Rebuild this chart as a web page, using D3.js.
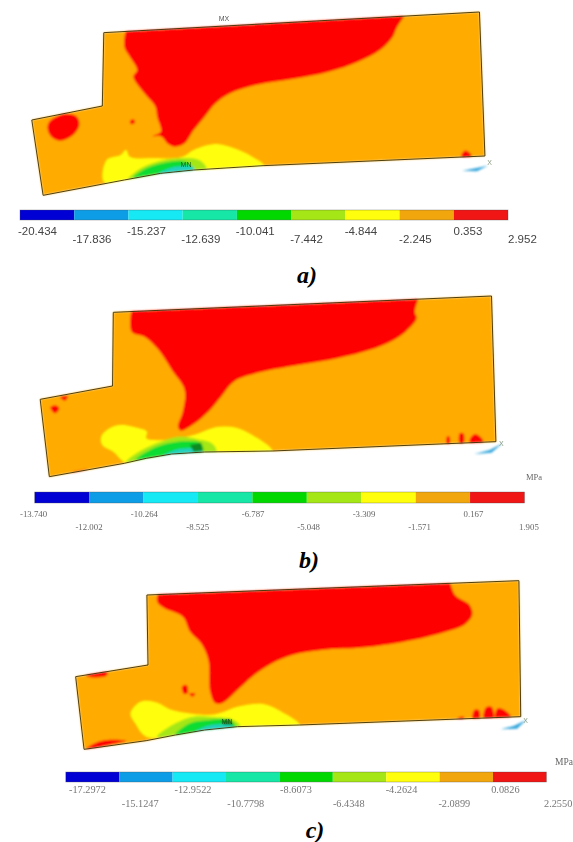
<!DOCTYPE html>
<html>

<head>
  <meta charset="utf-8">
  <script src="https://d3js.org/d3.v7.min.js"></script>
  <style>
    body { margin: 0; background: white; }
    svg { display: block; }
  </style>
</head>

<body>
  <svg id="chart" width="573" height="842"></svg>

  <script>
    // contour colours, lowest band to highest
    const bandColors = ["#0000d4", "#0c9ce6", "#14e8f4", "#14e6a6", "#06d806", "#a4e614", "#ffff0a", "#f2a60c", "#f01212"];
    const fieldOrange = "#ffab00", fieldYellow = "#ffff0a", fieldGreenYellow = "#a4e614", fieldGreen = "#08dc30", fieldTeal = "#20d0c0", fieldRed = "#ff0000";

    // stress levels on the legends (MPa)
    const levelsA = ["-20.434", "-17.836", "-15.237", "-12.639", "-10.041", "-7.442", "-4.844", "-2.245", "0.353", "2.952"];
    const levelsB = ["-13.740", "-12.002", "-10.264", "-8.525", "-6.787", "-5.048", "-3.309", "-1.571", "0.167", "1.905"];
    const levelsC = ["-17.2972", "-15.1247", "-12.9522", "-10.7798", "-8.6073", "-6.4348", "-4.2624", "-2.0899", "0.0826", "2.2550"];

    // model outlines and contour regions
    // red regions run from the top right round to the top left, the top edge closes them
    const outlineA = [[87, 360], [280, 318], [284, 98], [1312, 36], [1327, 468], [720, 497], [530, 510], [440, 520], [340, 540], [118, 586]];
    const redA = [[1112, 40], [1085, 85], [1075, 110], [1040, 150], [980, 185], [900, 215], [800, 237], [700, 255], [630, 280], [590, 310], [560, 350], [530, 390], [505, 430], [480, 440], [460, 432], [442, 410], [418, 408], [440, 395], [430, 350], [425, 320], [395, 280], [365, 230], [375, 210], [355, 170], [340, 140], [345, 85]];
    const spotsA = [[[135, 365], [175, 342], [210, 350], [217, 375], [200, 405], [165, 422], [140, 410], [130, 385]], [[1262, 470], [1272, 452], [1288, 462], [1290, 474]], [[356, 362], [366, 358], [368, 370], [358, 372]]];
    const yellowA = [[284, 545], [292, 480], [330, 465], [345, 450], [355, 470], [420, 475], [500, 470], [530, 450], [590, 432], [640, 445], [690, 470], [722, 497], [530, 512], [440, 522], [340, 542]];
    const limeA = [[350, 540], [385, 505], [440, 482], [500, 474], [545, 480], [565, 505], [530, 512], [440, 522]];
    const greenA = [[365, 532], [400, 505], [450, 488], [500, 483], [525, 498], [530, 512], [470, 518], [420, 525]];
    const tealA = [[430, 522], [480, 500], [530, 502], [530, 512], [470, 518]];

    const outlineB = [[110, 358], [308, 318], [310, 97], [1345, 48], [1357, 485], [745, 513], [560, 516], [470, 522], [400, 535], [340, 550], [135, 590]];
    const redB = [[1147, 50], [1135, 95], [1140, 115], [1110, 155], [1060, 190], [990, 217], [900, 240], [800, 258], [700, 280], [640, 305], [605, 350], [570, 395], [530, 432], [495, 452], [487, 440], [500, 395], [505, 330], [470, 270], [430, 205], [395, 170], [360, 155], [360, 87]];
    const spotsB = [[[138, 382], [152, 376], [162, 386], [150, 400]], [[165, 352], [185, 348], [178, 362]], [[195, 580], [240, 568], [200, 576]], [[1223, 470], [1230, 470], [1230, 492], [1223, 492]], [[1258, 460], [1268, 460], [1268, 492], [1258, 492]], [[1285, 480], [1300, 462], [1320, 478], [1322, 490], [1288, 492]]];
    const yellowB = [[345, 548], [310, 515], [280, 495], [277, 470], [300, 445], [330, 435], [380, 445], [402, 455], [400, 475], [450, 480], [520, 468], [545, 460], [590, 442], [640, 442], [690, 465], [745, 513], [560, 517], [470, 524], [400, 537]];
    const limeB = [[345, 546], [380, 515], [440, 485], [490, 470], [540, 478], [580, 490], [592, 516], [470, 524], [400, 537]];
    const greenB = [[370, 540], [410, 510], [460, 490], [510, 483], [550, 490], [555, 516], [470, 524], [400, 537]];
    const tealB = [[440, 530], [490, 507], [540, 508], [555, 517], [470, 524]];
    const darkPatchB = [[520, 495], [550, 488], [556, 512], [530, 515]];

    const outlineC = [[207, 350], [405, 315], [402, 105], [1420, 62], [1425, 470], [820, 495], [650, 500], [560, 510], [480, 525], [400, 542], [230, 568]];
    const redC = [[1230, 60], [1245, 105], [1285, 135], [1292, 165], [1270, 195], [1220, 215], [1130, 240], [1000, 262], [880, 270], [800, 285], [745, 310], [690, 350], [650, 390], [610, 428], [590, 430], [575, 395], [570, 300], [550, 250], [520, 215], [500, 170], [450, 145], [430, 125], [433, 95]];
    const spotsC = [[[498, 380], [510, 375], [514, 398], [504, 402]], [[518, 402], [534, 400], [528, 410]], [[235, 567], [255, 552], [290, 540], [345, 542], [310, 552]], [[235, 345], [295, 336], [290, 348], [240, 350]], [[1252, 475], [1268, 470], [1270, 482], [1252, 482]], [[1294, 480], [1298, 450], [1310, 450], [1312, 480]], [[1324, 478], [1330, 442], [1345, 440], [1350, 478]], [[1355, 476], [1362, 445], [1380, 450], [1400, 474]]];
    const yellowC = [[400, 530], [370, 490], [357, 460], [385, 425], [430, 428], [470, 450], [570, 465], [600, 460], [650, 440], [720, 432], [770, 455], [820, 495], [650, 501], [560, 511], [480, 526]];
    const limeC = [[430, 530], [480, 490], [530, 470], [590, 472], [640, 480], [658, 501], [560, 511], [480, 526]];
    const greenC = [[480, 524], [520, 490], [570, 480], [620, 478], [645, 500], [560, 511]];
    const tealC = [[530, 516], [570, 497], [630, 495], [640, 503], [560, 511]];
    const darkPatchC = [[605, 482], [630, 476], [638, 495], [612, 494]];

    const panelTable = [
      { top: 0, outline: outlineA, red: redA, spots: spotsA, yellow: yellowA, lime: limeA, green: greenA, teal: tealA, patch: null, tri: [[1265, 512], [1300, 505], [1335, 497], [1305, 514]], triX: [1340, 495], levels: levelsA,
        bar: [20, 508, 210, 220], lab: [18, 508], row: [235, 243], font: ["Liberation Sans", 11.5, "#444"], cap: ["a)", 307, 283], mn: [186, 167], mx: [224, 21], unit: null },
      { top: 280, outline: outlineB, red: redB, spots: spotsB, yellow: yellowB, lime: limeB, green: greenB, teal: tealB, patch: darkPatchB, tri: [[1298, 522], [1340, 510], [1375, 490], [1345, 518]], triX: [1372, 497], levels: levelsB,
        bar: [34.7, 524.5, 492, 503], lab: [20, 519], row: [517, 530], font: ["Liberation Serif", 8.8, "#666"], cap: ["b)", 309, 568], mn: null, mx: null, unit: [526, 480, 8.5] },
      { top: 560, outline: outlineC, red: redC, spots: spotsC, yellow: yellowC, lime: limeC, green: greenC, teal: tealC, patch: darkPatchC, tri: [[1370, 508], [1405, 498], [1440, 480], [1415, 506]], triX: [1438, 490], levels: levelsC,
        bar: [65.8, 546.4, 772, 782], lab: [69, 544], row: [793, 807], font: ["Liberation Serif", 10.3, "#777"], cap: ["c)", 315, 838], mn: [227, 724], mx: null, unit: [555, 765, 9.5] }
    ];

    const svg = d3.select("#chart");
    const defs = svg.append("defs");
    defs.append("filter").attr("id", "soft").append("feGaussianBlur").attr("stdDeviation", 0.8);
    defs.append("filter").attr("id", "softText").append("feGaussianBlur").attr("stdDeviation", 0.4);

    const xScale = d3.scaleLinear().domain([0, 1568]).range([0, 573]);

    panelTable.forEach((p, i) => {
      const yScale = d3.scaleLinear().domain([0, 870]).range([p.top, p.top + 290]);
      const straight = d3.line().x(d => xScale(d[0])).y(d => yScale(d[1])).curve(d3.curveLinearClosed);
      const smooth = d3.line().x(d => xScale(d[0])).y(d => yScale(d[1])).curve(d3.curveCatmullRomClosed.alpha(0.5));
      const openSmooth = d3.line().x(d => xScale(d[0])).y(d => yScale(d[1])).curve(d3.curveCatmullRom.alpha(0.5));

      defs.append("clipPath").attr("id", "clip" + i).append("path").attr("d", straight(p.outline));

      const field = svg.append("g").attr("filter", "url(#soft)");
      field.append("path").attr("d", straight(p.outline)).attr("fill", fieldOrange);

      const inner = field.append("g").attr("clip-path", `url(#clip${i})`);
      inner.append("path").attr("d", smooth(p.yellow)).attr("fill", fieldYellow);
      inner.append("path").attr("d", smooth(p.lime)).attr("fill", fieldGreenYellow);
      inner.append("path").attr("d", smooth(p.green)).attr("fill", fieldGreen);
      inner.append("path").attr("d", smooth(p.teal)).attr("fill", fieldTeal);
      if (p.patch) inner.append("path").attr("d", straight(p.patch)).attr("fill", "#0c8a22");
      inner.append("path").attr("d", openSmooth(p.red) + "Z").attr("fill", fieldRed);
      inner.selectAll(".spot").data(p.spots).join("path").attr("class", "spot")
        .attr("d", d => smooth(d)).attr("fill", fieldRed);

      // little triad sliver at the support
      field.append("path").attr("d", straight(p.tri)).attr("fill", "#35a6dc");

      svg.append("path").attr("d", straight(p.outline)).attr("filter", "url(#softText)")
        .attr("fill", "none").attr("stroke", "#3a2c08").attr("stroke-width", 0.9);

      // legend bar: one rect per band between neighbouring levels
      const values = p.levels.map(Number);
      const barX = d3.scaleLinear().domain([values[0], values[9]]).range([p.bar[0], p.bar[1]]);
      const labelX = d3.scaleLinear().domain([values[0], values[9]]).range(p.lab);

      const legend = svg.append("g").attr("filter", "url(#softText)");
      legend.selectAll("rect").data(bandColors).join("rect")
        .attr("x", (d, k) => barX(values[k]))
        .attr("width", (d, k) => barX(values[k + 1]) - barX(values[k]))
        .attr("y", p.bar[2])
        .attr("height", p.bar[3] - p.bar[2])
        .attr("fill", d => d);
      legend.append("rect")
        .attr("x", p.bar[0]).attr("width", p.bar[1] - p.bar[0])
        .attr("y", p.bar[2]).attr("height", p.bar[3] - p.bar[2])
        .attr("fill", "none").attr("stroke", "#555").attr("stroke-opacity", 0.5).attr("stroke-width", 0.7);

      const texts = svg.append("g").attr("filter", "url(#softText)");
      texts.selectAll("text").data(p.levels).join("text")
        .attr("x", d => labelX(+d))
        .attr("y", (d, k) => p.row[k % 2])
        .attr("font-family", p.font[0])
        .attr("font-size", p.font[1])
        .attr("fill", p.font[2])
        .text(d => d);

      if (p.unit) texts.append("text").attr("x", p.unit[0]).attr("y", p.unit[1])
        .attr("font-family", p.font[0]).attr("font-size", p.unit[2]).attr("fill", "#666").text("MPa");
      if (p.mx) texts.append("text").attr("x", p.mx[0]).attr("y", p.mx[1]).attr("text-anchor", "middle")
        .attr("font-family", "Liberation Sans").attr("font-size", 7).attr("fill", "#555").text("MX");
      if (p.mn) texts.append("text").attr("x", p.mn[0]).attr("y", p.mn[1]).attr("text-anchor", "middle")
        .attr("font-family", "Liberation Sans").attr("font-size", 7).attr("fill", "#1a5a1a").text("MN");
      texts.append("text").attr("x", xScale(p.triX[0])).attr("y", yScale(p.triX[1])).attr("text-anchor", "middle")
        .attr("font-family", "Liberation Sans").attr("font-size", 7).attr("fill", "#8a9a80").text("X");

      svg.append("text").attr("x", p.cap[1]).attr("y", p.cap[2]).attr("text-anchor", "middle")
        .attr("font-family", "Liberation Serif").attr("font-style", "italic").attr("font-weight", "bold")
        .attr("font-size", 24).attr("fill", "#000").text(p.cap[0]);
    });
  </script>
</body>

</html>
